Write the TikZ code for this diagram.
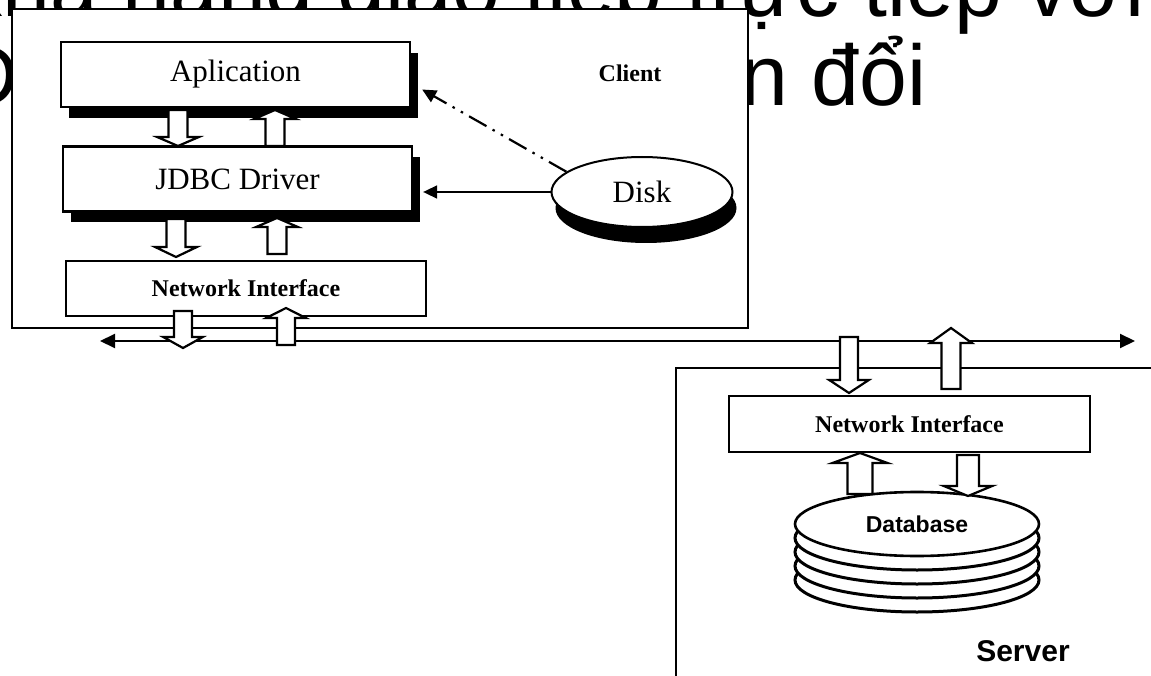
\documentclass[tikz,border=0pt]{standalone}
\usepackage{fontspec}
\setmainfont{Liberation Serif}
\newfontfamily\sansvn{Liberation Sans}
\usetikzlibrary{arrows.meta,shapes.geometric,shadows}

% hollow block arrow: x, tail y, head y, tip y, half shaft width
\newcommand{\blkarrow}[5]{%
	\draw[blk] ({#1-#5},#2) -- ({#1-#5},#3) -- ({#1-2.2*#5},#3) -- (#1,#4)
		-- ({#1+2.2*#5},#3) -- ({#1+#5},#3) -- ({#1+#5},#2) -- cycle;}

\begin{document}
\begin{tikzpicture}[x=1pt,y=-1pt,line join=miter,
	layer/.style={draw,fill=white,line width=2.3pt,inner sep=0pt,minimum width=349pt,minimum height=65pt,
		font=\fontsize{31}{31}\selectfont,drop shadow={shadow xshift=8pt,shadow yshift=-11pt,fill=black,opacity=1}},
	nic/.style={draw,fill=white,line width=2.3pt,inner sep=0pt,minimum width=360pt,minimum height=55pt,
		font=\fontsize{24}{24}\selectfont\bfseries},
	blk/.style={draw,fill=white,line width=2.2pt},
	tip/.style={-{Triangle[length=14pt,width=13pt]}},
	bigtxt/.style={anchor=base east,inner sep=0pt,font=\sansvn\fontsize{86}{86}\selectfont}]
	\fill[white] (0,0) rectangle (1151,676);
	\useasboundingbox (0,0) rectangle (1151,676);
	% slide text behind the picture
	\node[bigtxt] (line1) at (1145,17) {khả năng giao tiếp trực tiếp với};
	\node[bigtxt] (line2) at (927,106) {CSDL không cần chuyển đổi};
	% client side
	\draw[fill=white,line width=2.6pt] (12,9) rectangle (748,328);
	\node[layer] (apl) at (235.5,74.5) {Aplication};
	\node[layer] (jdbc) at (237.5,179) {JDBC Driver};
	\node[nic] (nicC) at (246,288.5) {Network Interface};
	\node[font=\fontsize{24}{24}\selectfont\bfseries] (client) at (630,73) {Client};
	\node[ellipse,draw,fill=white,line width=2pt,inner sep=0pt,minimum width=181pt,minimum height=70pt,
		font=\fontsize{31}{31}\selectfont,drop shadow={shadow xshift=4pt,shadow yshift=-16pt,fill=black,opacity=1}]
		(disk) at (642,192) {Disk};
	\path (jdbc.east |- disk.west) ++(10,0) coordinate (jin);
	\path (apl.east) ++(11,15) coordinate (apin);
	\draw[tip,line width=1.6pt] (disk.west) -- (jin);
	\draw[tip,line width=2.2pt,dash pattern=on 20pt off 7pt on 2.5pt off 7pt on 2.5pt off 7pt] (disk.165) -- (apin);
	% network
	\coordinate (busL) at (100,341);
	\coordinate (busR) at (1135,341);
	\draw[{Triangle[length=15pt,width=14pt]}-{Triangle[length=15pt,width=14pt]},line width=2pt] (busL) -- (busR);
	% server side
	\draw[line width=2.4pt] (1151,368) -- (676,368) -- (676,676);
	\node[nic,minimum width=361pt,minimum height=56pt] (nicS) at (909.5,424) {Network Interface};
	\foreach \k in {4,3,2,1}
		\draw[fill=white,line width=3pt] (917,{524+14*\k}) ellipse [x radius=122pt,y radius=32pt];
	\node[ellipse,draw,fill=white,line width=2.6pt,inner sep=0pt,minimum width=244pt,minimum height=64pt,
		font=\sansvn\fontsize{23}{23}\selectfont\bfseries] (db) at (917,524) {Database};
	\node[font=\sansvn\fontsize{30}{30}\selectfont\bfseries] (server) at (1023,651) {Server};
	% block arrows
	\blkarrow{178}{110}{137}{146}{9.5}
	\blkarrow{275}{146}{119}{110}{9.5}
	\blkarrow{176}{219}{247}{257}{9.5}
	\blkarrow{277}{254}{227}{218}{9.5}
	\blkarrow{183}{311}{337}{348}{9}
	\blkarrow{286}{345}{318}{308}{9}
	\blkarrow{849}{337}{380}{393}{9}
	\blkarrow{951}{389}{343}{328}{9.5}
	\blkarrow{860}{494}{463}{453}{12.5}
	\blkarrow{968}{455}{486}{496}{11}
\end{tikzpicture}
\end{document}
